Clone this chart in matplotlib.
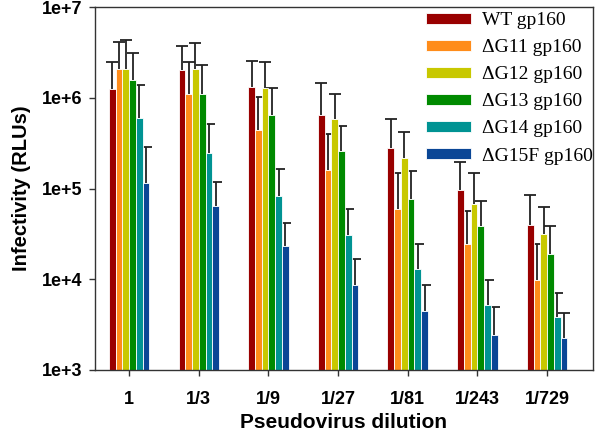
import numpy as np
import matplotlib
matplotlib.use('Agg')
import matplotlib.pyplot as plt
from matplotlib.ticker import FixedLocator, FuncFormatter, NullLocator

dilutions = ['1', '1/3', '1/9', '1/27', '1/81', '1/243', '1/729']
series = ['WT gp160', '\u0394G11 gp160', '\u0394G12 gp160',
          '\u0394G13 gp160', '\u0394G14 gp160', '\u0394G15F gp160']
colors = ['#990000', '#ff8c1a', '#c8c800', '#008a00', '#009393', '#0a4696']

# mean values (RLUs)
wt = [1.26e6, 2.0e6, 1.31e6, 6.5e5, 2.8e5, 9.6e4, 3.97e4]
g11 = [2.1e6, 1.09e6, 4.4e5, 1.6e5, 6.0e4, 2.44e4, 9.7e3]
g12 = [2.1e6, 2.1e6, 1.27e6, 5.78e5, 2.19e5, 6.8e4, 3.13e4]
g13 = [1.55e6, 1.09e6, 6.5e5, 2.6e5, 7.6e4, 3.87e4, 1.9e4]
g14 = [6.0e5, 2.45e5, 8.2e4, 3.1e4, 1.31e4, 5.2e3, 3.84e3]
g15f = [1.16e5, 6.45e4, 2.3e4, 8.7e3, 4.47e3, 2.46e3, 2.28e3]

# top of the error bars (mean + SD)
wt_top = [2.5e6, 3.7e6, 2.54e6, 1.44e6, 5.9e5, 1.98e5, 8.4e4]
g11_top = [4.07e6, 2.46e6, 1.03e6, 3.95e5, 1.49e5, 5.58e4, 2.42e4]
g12_top = [4.35e6, 4.03e6, 2.5e6, 1.09e6, 4.2e5, 1.47e5, 6.2e4]
g13_top = [3.12e6, 2.3e6, 1.28e6, 4.93e5, 1.55e5, 7.2e4, 3.84e4]
g14_top = [1.37e6, 5.1e5, 1.63e5, 6.0e4, 2.44e4, 9.9e3, 7.08e3]
g15f_top = [2.9e5, 1.18e5, 4.15e4, 1.68e4, 8.75e3, 5.0e3, 4.2e3]

means = [wt, g11, g12, g13, g14, g15f]
tops = [wt_top, g11_top, g12_top, g13_top, g14_top, g15f_top]

fig = plt.figure(figsize=(6, 4.32), dpi=100)
ax = fig.add_axes([95 / 600, 1 - 370 / 432, (593 - 95) / 600, (370 - 7) / 432])

x = np.arange(len(dilutions))
w = 0.097
for i, (m, t) in enumerate(zip(means, tops)):
    m = np.array(m)
    t = np.array(t)
    pos = x + (i - 2.5) * w
    err = np.vstack([np.zeros_like(m), t - m])
    eb = ax.errorbar(pos, m, yerr=err, fmt='none', ecolor='#222222',
                     elinewidth=1.3, capsize=4.5, capthick=1.3, zorder=1)
    # only the upper cap is drawn in the original
    eb[1][0].set_visible(False)
    ax.bar(pos, m, width=w, color=colors[i], edgecolor='white',
           linewidth=0.6, label=series[i], zorder=2)

ax.set_yscale('log')
ax.set_ylim(1e3, 1e7)
ax.set_xlim(-0.49, 6.66)
ax.yaxis.set_major_locator(FixedLocator([1e3, 1e4, 1e5, 1e6, 1e7]))
ax.yaxis.set_minor_locator(NullLocator())
ax.yaxis.set_major_formatter(FuncFormatter(lambda v, p: '1e+%d' % round(np.log10(v))))
ax.set_xticks(x)
ax.set_xticklabels(dilutions)

for lab in ax.get_xticklabels() + ax.get_yticklabels():
    lab.set_family('Liberation Sans')
    lab.set_fontweight('bold')
    lab.set_fontsize(13)
ax.tick_params(axis='both', direction='out', length=4, width=1, color='#333333')
ax.tick_params(axis='x', pad=11)
ax.tick_params(axis='y', pad=5)

for s in ax.spines.values():
    s.set_color('#333333')
    s.set_linewidth(1)

ax.set_xlabel('Pseudovirus dilution', family='Liberation Sans',
              fontweight='bold', fontsize=15, labelpad=4)
ax.set_ylabel('Infectivity (RLUs)', family='Liberation Sans',
              fontweight='bold', fontsize=14.5, labelpad=8)

ax.legend(loc='upper left', bbox_to_anchor=(426 / 600, 1 - 12 / 432),
          bbox_transform=fig.transFigure, frameon=False,
          prop={'family': 'Liberation Serif', 'size': 14},
          handlelength=2.3, handleheight=0.5, handletextpad=0.6,
          labelspacing=0.52, borderpad=0, borderaxespad=0)

fig.savefig('out.png', dpi=100)
